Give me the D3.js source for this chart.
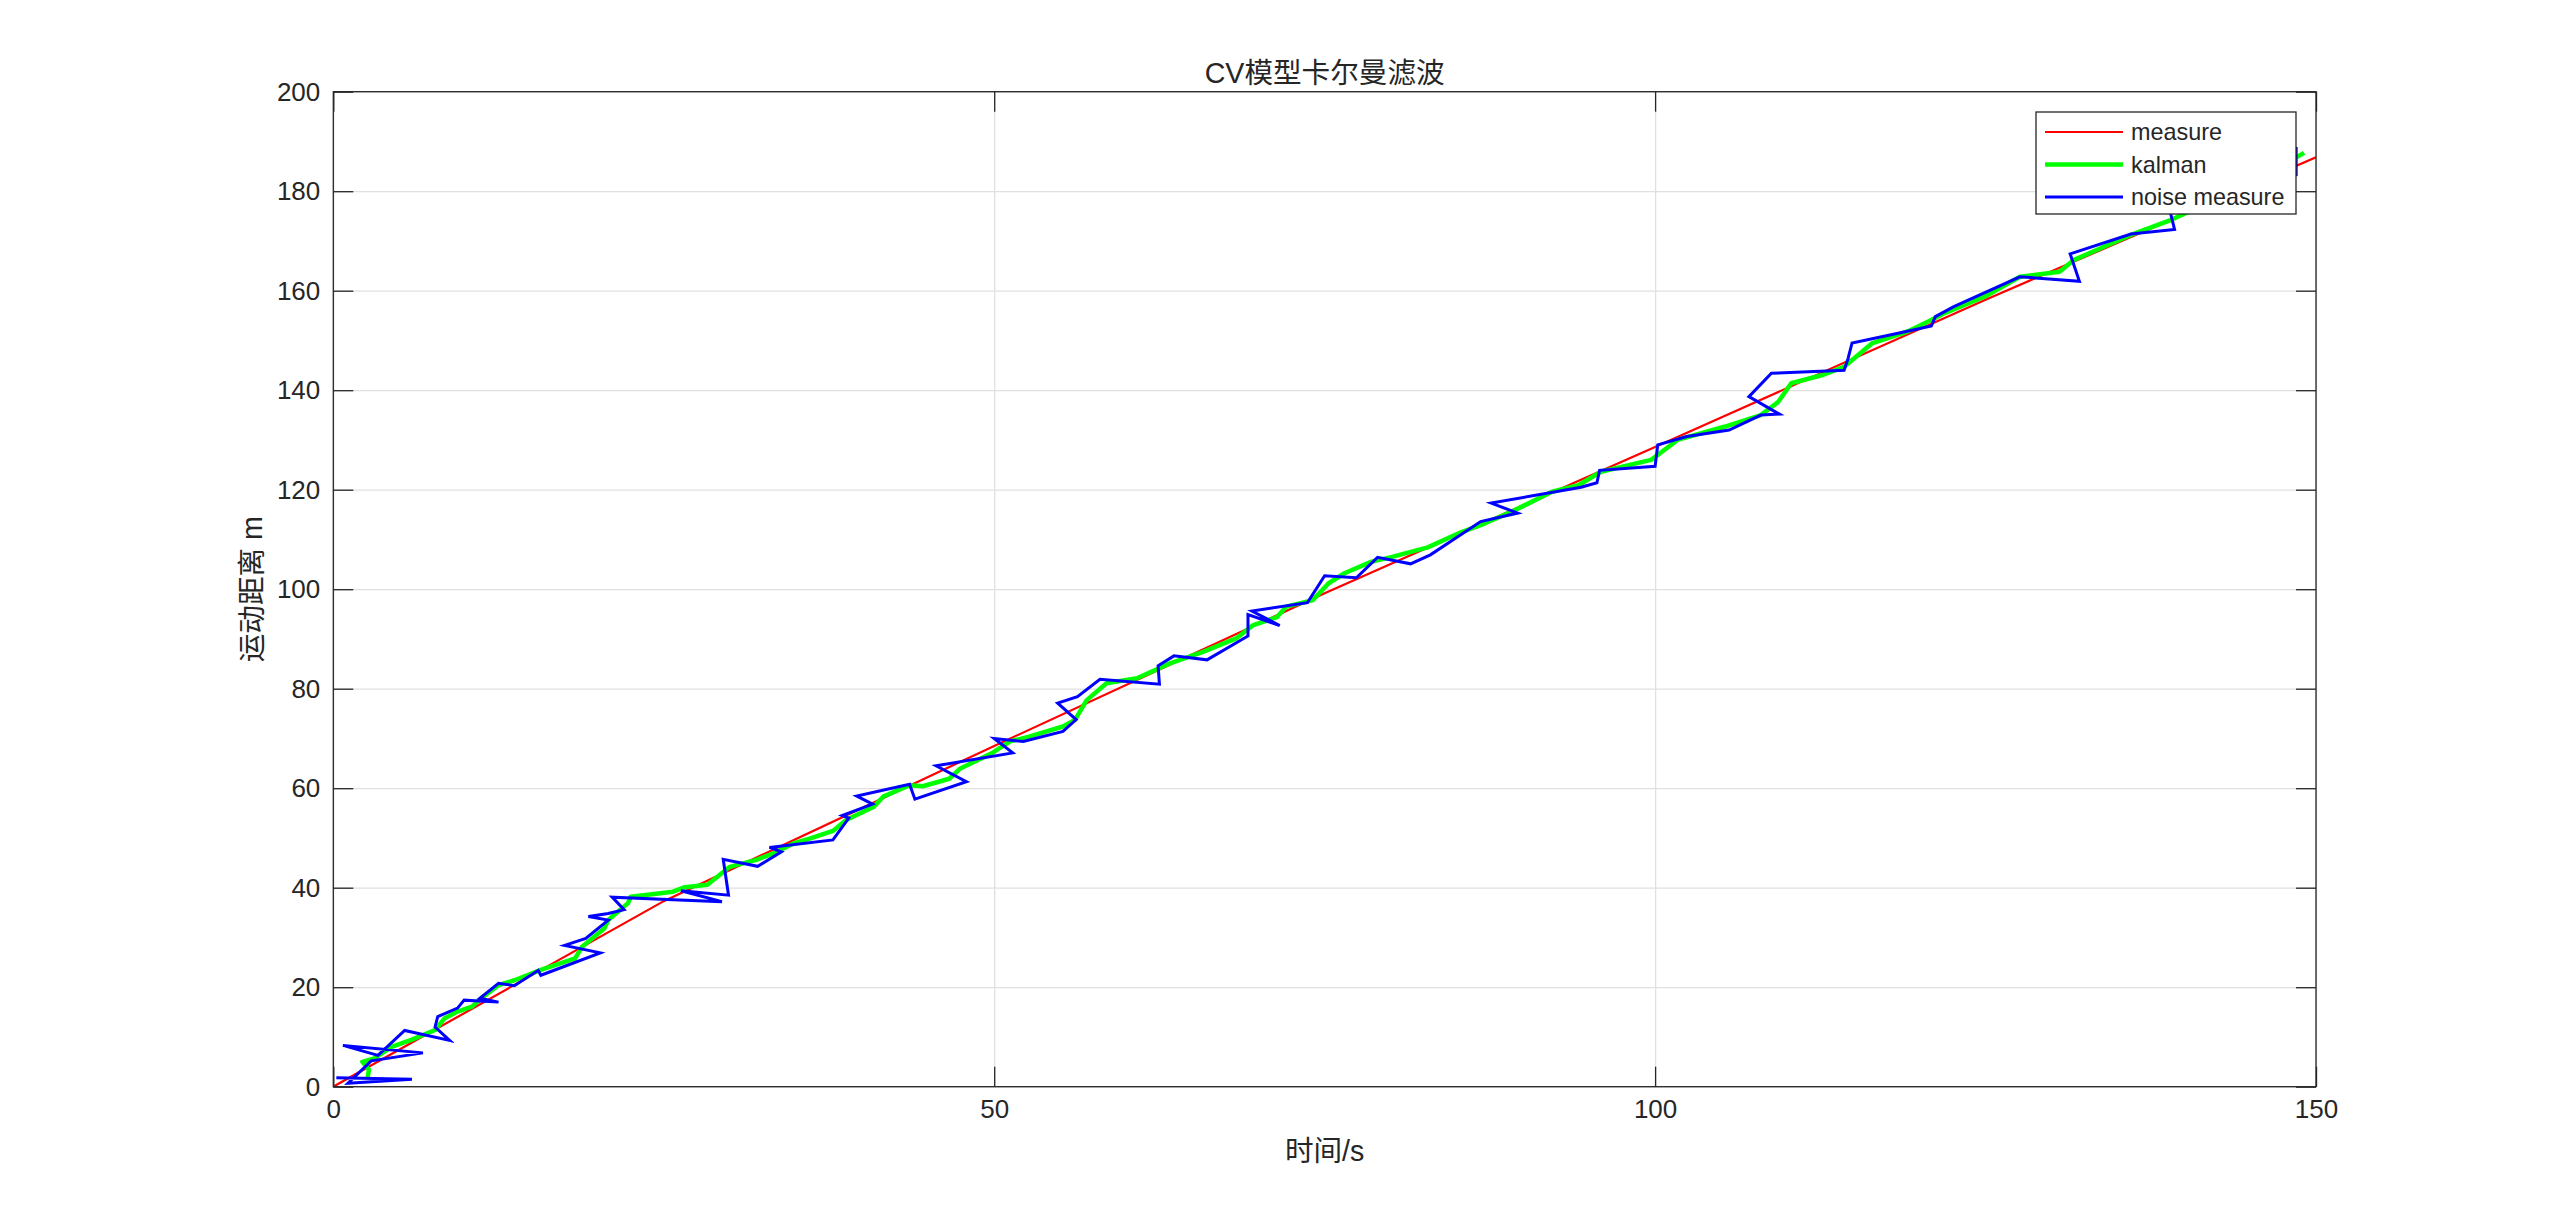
<!DOCTYPE html>
<html>
<head>
<meta charset="utf-8">
<script src="https://cdn.jsdelivr.net/npm/d3@7"></script>
<style>
  html, body { margin: 0; padding: 0; background: #ffffff; }
  svg { display: block; }
  text { font-family: "Liberation Sans", Arial, "Noto Sans CJK SC", sans-serif; fill: #262626; }
</style>
</head>
<body>
<svg id="chart" width="2560" height="1220"></svg>
<script>
// ---------- data ----------
const chartTitle = "CV模型卡尔曼滤波";
const xLabel = "时间/s";
const yLabel = "运动距离 m";
const seriesNames = ["measure", "kalman", "noise measure"];

const xTicks = [0, 50, 100, 150];
const yTicks = [0, 20, 40, 60, 80, 100, 120, 140, 160, 180, 200];

// true trajectory (red)
const measureX = [0, 25, 50, 75, 100, 125, 150];
const measureY = [0, 37.3, 68.5, 99.2, 128.6, 158.2, 186.8];

// Kalman estimate (green)
const kalmanX = [2.6, 2.7, 2.2, 3.1, 4.4, 5.9, 7.7, 8.4, 9.4, 10.5, 11.2, 12.5, 13.7, 15.7, 18.3, 18.8, 20.5, 20.8, 22.3, 22.5,
  25.7, 26.6, 28.3, 30.0, 32.0, 33.3, 34.8, 36.1, 37.8, 38.8, 40.9, 41.6, 43.6, 44.6, 46.6, 47.4, 49.8,
  51.2, 52.7, 55.2, 56.1, 57.0, 58.5, 60.8, 63.3, 65.8, 68.3, 69.6, 71.4, 72.1, 74.1, 75.3,
  76.5, 78.5, 80.1, 82.8, 85.1, 87.1, 89.4, 92.2, 94.2, 95.9, 99.7,
  101.7, 105.3, 108.0, 109.3, 110.3, 112.6, 114.3, 116.4, 119.1, 120.9, 121.9, 125.0,
  127.6, 130.6, 131.7, 136.0, 139.0, 143.0, 146.0, 149.1];
const kalmanY = [1.9, 3.4, 5.0, 5.7, 8.0, 9.4, 11.4, 13.7, 15.1, 16.1, 17.8, 20.4, 21.4, 23.5, 25.8, 28.1, 31.8, 33.5, 36.9, 38.2,
  39.2, 40.1, 40.6, 44.2, 45.6, 46.9, 48.9, 49.9, 51.4, 53.6, 56.3, 58.3, 60.6, 60.4, 61.9, 63.9, 67.0,
  69.4, 70.4, 72.4, 73.7, 77.7, 81.1, 82.1, 85.1, 87.4, 90.1, 92.8, 94.4, 96.5, 97.8, 101.2,
  103.2, 105.5, 106.5, 108.4, 111.2, 113.2, 115.9, 119.6, 120.9, 123.6, 126.0,
  130.0, 132.7, 135.0, 137.6, 141.4, 143.0, 144.7, 149.4, 151.8, 154.1, 155.5, 158.9,
  162.8, 163.8, 166.2, 171.2, 174.2, 179.0, 183.0, 187.7];

// noisy measurements (blue)
const noiseX = [0.23, 5.95, 1.11, 2.87, 6.78, 0.73, 3.38, 5.4, 8.8, 7.7, 7.9, 9.4, 9.9, 12.5, 11.1, 12.5, 13.7, 15.5, 15.7,
  20.2, 17.5, 19.1, 20.8, 19.3, 20.8, 22.0, 21.1,
  29.4, 26.3, 29.9, 29.5, 32.1, 33.9, 33.0, 37.8, 39.0, 38.5, 40.8, 39.6, 43.6, 44.0, 47.9, 45.6,
  51.4, 50.0, 52.2, 55.2, 56.2, 54.8, 56.3, 58.0, 62.5, 62.4, 63.6, 66.1, 69.2, 69.2, 71.6, 69.5, 73.7, 75.0,
  77.4, 79.0, 81.5, 83.0, 86.8, 89.6, 87.6, 94.4, 95.6, 95.8, 100.0, 100.2,
  102.4, 105.6, 108.0, 109.4, 107.1, 108.8, 114.3, 114.6, 114.9, 119.0, 120.9, 121.2, 122.6,
  127.6, 132.1, 131.4, 136.0, 139.3, 139.0, 143.0, 146.0, 148.5, 148.5];
const noiseY = [1.8, 1.5, 0.7, 5.2, 6.8, 8.3, 6.3, 11.3, 9.3, 12.0, 14.1, 15.8, 17.4, 17.0, 17.8, 20.8, 20.3, 23.4, 22.4,
  26.9, 28.4, 29.8, 33.5, 34.2, 34.8, 35.6, 38.1,
  37.2, 39.4, 38.5, 45.7, 44.3, 47.2, 48.1, 49.6, 54.0, 54.5, 56.8, 58.4, 60.8, 57.8, 61.3, 64.5,
  67.1, 70.0, 69.4, 71.4, 73.8, 77.1, 78.4, 81.9, 80.9, 84.6, 86.6, 85.8, 90.6, 94.9, 92.7, 95.6, 97.3, 102.7,
  102.3, 106.4, 105.1, 106.9, 113.6, 115.3, 117.3, 120.5, 121.4, 123.9, 124.7, 129.0,
  130.7, 132.0, 135.0, 135.2, 138.7, 143.4, 144.0, 146.4, 149.5, 151.8, 152.9, 154.8, 156.8,
  162.8, 161.9, 167.4, 171.4, 172.3, 175.5, 179.0, 182.0, 183.3, 188.9];

const seriesColors = ["#ff0000", "#00ff00", "#0000ff"];

// ---------- layout ----------
const W = 2560, H = 1220;
const plot = { left: 333.3, right: 2316, top: 91.7, bottom: 1086.7 };
const axisColor = "#262626";
const gridColor = "#e0e0e0";
const tickFont = 26;
const labelFont = 28.6;
const legendFont = 23.4;

const svg = d3.select("#chart");
svg.append("rect").attr("width", W).attr("height", H).attr("fill", "#ffffff");

const x = d3.scaleLinear().domain([0, 150]).range([plot.left, plot.right]);
const y = d3.scaleLinear().domain([0, 200]).range([plot.bottom, plot.top]);
const pw = plot.right - plot.left, ph = plot.bottom - plot.top;

// grid
const gx = svg.append("g").attr("transform", `translate(0,${plot.bottom})`)
  .call(d3.axisBottom(x).tickValues(xTicks).tickSize(-ph).tickFormat(""));
gx.select(".domain").remove();
gx.selectAll(".tick line").attr("stroke", gridColor).attr("stroke-width", 1.3);

const gy = svg.append("g").attr("transform", `translate(${plot.left},0)`)
  .call(d3.axisLeft(y).tickValues(yTicks).tickSize(-pw).tickFormat(""));
gy.select(".domain").remove();
gy.selectAll(".tick line").attr("stroke", gridColor).attr("stroke-width", 1.3);

// clip
svg.append("defs").append("clipPath").attr("id", "clip")
  .append("rect").attr("x", plot.left).attr("y", plot.top).attr("width", pw).attr("height", ph);

const lineGen = d3.line().x(d => x(d[0])).y(d => y(d[1]));
const dataG = svg.append("g").attr("clip-path", "url(#clip)");

const measure = measureX.map((v, i) => [v, measureY[i]]);
const kalman = kalmanX.map((v, i) => [v, kalmanY[i]]);
const noise = noiseX.map((v, i) => [v, noiseY[i]]);

dataG.append("path").datum(measure).attr("d", lineGen)
  .attr("fill", "none").attr("stroke", seriesColors[0]).attr("stroke-width", 2.2);
dataG.append("path").datum(kalman).attr("d", lineGen)
  .attr("fill", "none").attr("stroke", seriesColors[1]).attr("stroke-width", 4.5)
  .attr("stroke-linejoin", "round");
dataG.append("path").datum(noise).attr("d", lineGen)
  .attr("fill", "none").attr("stroke", seriesColors[2]).attr("stroke-width", 3);

// axes (ticks inside, box)
function styleAxis(g) {
  g.select(".domain").remove();
  g.selectAll(".tick line").attr("stroke", axisColor).attr("stroke-width", 1.3);
  g.selectAll("text").attr("font-size", tickFont).attr("fill", axisColor)
    .attr("font-family", "'Liberation Sans', Arial, sans-serif");
}
const xAxis = svg.append("g").attr("transform", `translate(0,${plot.bottom})`)
  .call(d3.axisBottom(x).tickValues(xTicks).tickSize(-20).tickPadding(13).tickFormat(d3.format("d")));
styleAxis(xAxis);
const xAxisTop = svg.append("g").attr("transform", `translate(0,${plot.top})`)
  .call(d3.axisTop(x).tickValues(xTicks).tickSize(-20).tickFormat(""));
styleAxis(xAxisTop);
const yAxis = svg.append("g").attr("transform", `translate(${plot.left},0)`)
  .call(d3.axisLeft(y).tickValues(yTicks).tickSize(-20).tickPadding(13).tickFormat(d3.format("d")));
styleAxis(yAxis);
const yAxisRight = svg.append("g").attr("transform", `translate(${plot.right},0)`)
  .call(d3.axisRight(y).tickValues(yTicks).tickSize(-20).tickFormat(""));
styleAxis(yAxisRight);

svg.append("rect").attr("x", plot.left).attr("y", plot.top).attr("width", pw).attr("height", ph)
  .attr("fill", "none").attr("stroke", axisColor).attr("stroke-width", 1.3);

// title and labels
svg.append("text").attr("x", (plot.left + plot.right) / 2).attr("y", 82.5)
  .attr("text-anchor", "middle").attr("font-size", labelFont).text(chartTitle);
svg.append("text").attr("x", (plot.left + plot.right) / 2).attr("y", 1161)
  .attr("text-anchor", "middle").attr("font-size", labelFont).text(xLabel);
svg.append("text").attr("transform", `translate(262,${(plot.top + plot.bottom) / 2}) rotate(-90)`)
  .attr("text-anchor", "middle").attr("font-size", labelFont).text(yLabel);

// legend
const lg = svg.append("g");
lg.append("rect").attr("x", 2036).attr("y", 112).attr("width", 260).attr("height", 102)
  .attr("fill", "#ffffff").attr("stroke", axisColor).attr("stroke-width", 1.3);
const legendWidths = [2.2, 4.5, 3];
seriesNames.forEach((name, i) => {
  const yy = 132 + i * 32.5;
  lg.append("line").attr("x1", 2045).attr("x2", 2123).attr("y1", yy).attr("y2", yy)
    .attr("stroke", seriesColors[i]).attr("stroke-width", legendWidths[i]);
  lg.append("text").attr("x", 2131).attr("y", yy).attr("dy", "0.35em")
    .attr("font-size", legendFont).text(name);
});
</script>
</body>
</html>
